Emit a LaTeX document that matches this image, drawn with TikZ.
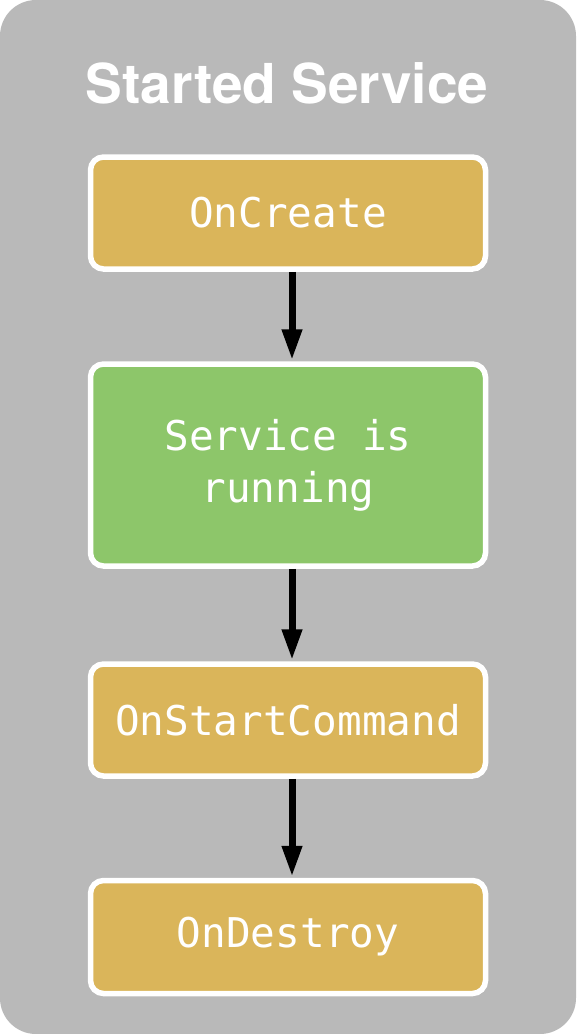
\documentclass[tikz,border=0pt]{standalone}
\usepackage{fontspec}
\usepackage{tikz}
\usetikzlibrary{arrows.meta,positioning,shadows}
\newfontfamily\titlefont{TeX Gyre Heros}
\newfontfamily\codefont{DejaVu Sans Mono}
\definecolor{panelgray}{RGB}{185,185,185}
\definecolor{stepgold}{RGB}{218,181,90}
\definecolor{rungreen}{RGB}{141,198,106}

\begin{document}
\begin{tikzpicture}[
  x=1pt,y=1pt,
  stagebox/.style={draw=white,line width=5.5pt,rounded corners=13pt,fill=stepgold,
    minimum width=395pt,minimum height=112pt,align=center,text=white,
    font=\codefont\fontsize{41}{52}\selectfont,
    drop shadow={opacity=0.25,shadow xshift=1.5pt,shadow yshift=-2.5pt}},
  flow/.style={line width=7pt,-{Triangle[length=31pt,width=19pt]},shorten >=1pt},
]
\fill[white] (0,0) rectangle (576,-1034);
\fill[panelgray,rounded corners=36pt] (0,0) rectangle (576,-1034);
\node[anchor=base,text=white,font=\titlefont\bfseries\fontsize{55}{60}\selectfont] (title) at (287,-103) {Started Service};

\node[stagebox] (create) at (288,-213) {OnCreate};
\node[stagebox,fill=rungreen,minimum height=202pt] (running) at (288,-465) {Service is\\running};
\node[stagebox] (startcmd) at (288,-720) {OnStartCommand};
\node[stagebox,minimum height=113pt] (destroy) at (288,-937) {OnDestroy};

\draw[flow] ([xshift=4pt]create.south) -- ([xshift=4pt]running.north);
\draw[flow] ([xshift=4pt]running.south) -- ([xshift=4pt]startcmd.north);
\draw[flow] ([xshift=4pt]startcmd.south) -- ([xshift=4pt]destroy.north);
\end{tikzpicture}
\end{document}
